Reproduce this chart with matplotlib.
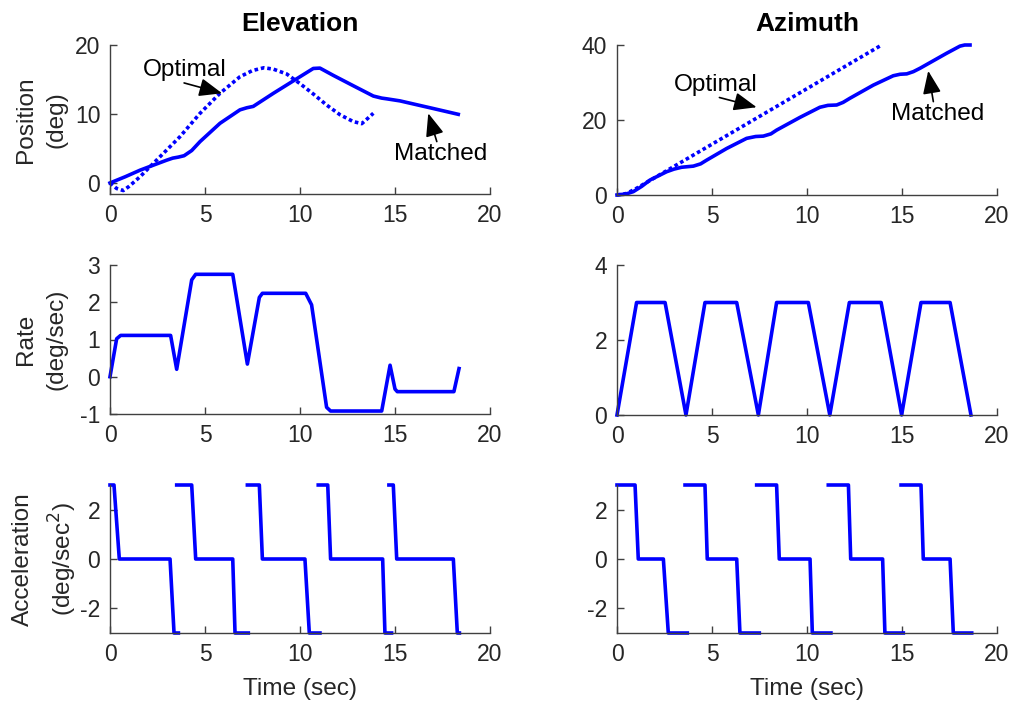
import matplotlib.pyplot as plt

plt.rcParams['font.family'] = ['Liberation Sans', 'DejaVu Sans']
plt.rcParams['axes.unicode_minus'] = False

# Elevation position (deg)
el_opt_t = [0, 0.35, 0.7, 1.0, 1.58, 2.63, 3.68, 4.74, 5.79, 6.84, 7.5, 8.1, 8.6,
            9.3, 10.0, 10.7, 11.4, 12.1, 12.8, 13.25, 13.5, 13.86]
el_opt_p = [0, -0.8, -1.1, -0.5, 0.9, 3.8, 6.7, 10.1, 13.0, 15.4, 16.3, 16.7, 16.5,
            15.8, 14.4, 12.9, 11.3, 9.9, 8.9, 8.6, 9.2, 10.1]
el_match_t = [0, 0.8, 1.58, 2.3, 2.98, 3.3, 3.6, 3.9, 4.3, 4.74, 5.79, 6.84, 7.2, 7.54,
              8.6, 10.0, 10.7, 11.05, 11.75, 12.8, 13.86, 14.3, 14.56, 15.26, 17.0, 18.33]
el_match_p = [0, 0.9, 1.85, 2.6, 3.3, 3.6, 3.75, 3.95, 4.7, 6.0, 8.65, 10.6, 10.9, 11.1,
              13.0, 15.4, 16.6, 16.65, 15.6, 14.1, 12.6, 12.3, 12.2, 11.9, 10.8, 9.95]

# Azimuth position (deg)
az_opt_t = [0, 0.5, 1.0, 13.93]
az_opt_p = [0, 0.4, 1.7, 40]
az_match_t = [0, 0.5, 0.86, 1.3, 1.74, 2.61, 3.0, 3.4, 4.02, 4.4, 4.72, 5.77, 6.82,
              7.3, 7.7, 8.1, 8.4, 9.63, 10.68, 11.1, 11.56, 11.9, 12.26, 13.49, 14.54,
              14.9, 15.25, 15.6, 15.95, 17.35, 18.05, 18.3, 18.58]
az_match_p = [0, 0.3, 0.9, 2.3, 4.0, 6.2, 6.9, 7.4, 7.7, 8.3, 9.3, 12.4, 15.1,
              15.6, 15.7, 16.3, 17.3, 20.7, 23.4, 23.9, 24.0, 24.7, 25.8, 29.3, 31.8,
              32.2, 32.3, 32.9, 33.8, 37.8, 39.7, 40.0, 40]

# Rates (deg/sec)
el_rate_t = [0, 0.35, 0.56, 3.19, 3.51, 4.3, 4.51, 6.46, 7.23, 7.86, 8.02, 10.3,
             10.61, 11.4, 11.61, 14.3, 14.74, 15.0, 15.12, 18.1, 18.37]
el_rate = [0, 1.02, 1.11, 1.11, 0.2, 2.6, 2.75, 2.75, 0.34, 2.13, 2.24, 2.24,
           1.93, -0.82, -0.92, -0.92, 0.31, -0.33, -0.4, -0.4, 0.22]
az_rate_t = [0, 1.03, 2.53, 3.63, 4.63, 6.3, 7.44, 8.4, 10.07, 11.2, 12.23, 13.9,
             14.98, 16.0, 17.53, 18.63]
az_rate = [0, 3, 3, 0, 3, 3, 0, 3, 3, 0, 3, 3, 0, 3, 3, 0]

# Accelerations (deg/sec^2), one segment per move
acc_levels = [3, 3, 0, 0, -3, -3]
el_acc_t = [
    [0, 0.21, 0.49, 3.16, 3.37, 3.6],
    [3.51, 4.3, 4.51, 6.46, 6.58, 7.28],
    [7.23, 7.86, 8.02, 10.26, 10.49, 11.05],
    [10.96, 11.46, 11.61, 14.35, 14.47, 14.82],
    [14.68, 14.91, 15.09, 18.07, 18.28, 18.39],
]
az_acc_t = [
    [0, 0.95, 1.12, 2.44, 2.7, 3.7],
    [3.58, 4.63, 4.75, 6.3, 6.47, 7.49],
    [7.35, 8.4, 8.54, 10.16, 10.28, 11.26],
    [11.12, 12.18, 12.3, 13.98, 14.1, 15.07],
    [14.95, 16.0, 16.12, 17.53, 17.7, 18.67],
]

W, H = 1021, 706
fig = plt.figure(figsize=(W / 100, H / 100), dpi=100)


def make_ax(x0, x1, y0, y1):
    ax = fig.add_axes([x0 / W, 1 - y1 / H, (x1 - x0) / W, (y1 - y0) / H])
    for s in ['top', 'right']:
        ax.spines[s].set_visible(False)
    for s in ['left', 'bottom']:
        ax.spines[s].set_color('#404040')
        ax.spines[s].set_linewidth(1.0)
    ax.tick_params(direction='in', length=5, width=1.0, color='#404040',
                   labelcolor='#262626', labelsize=16.5, pad=7)
    ax.set_xlim(0, 20)
    ax.set_xticks([0, 5, 10, 15, 20])
    ax.set_facecolor('none')
    return ax


lab = dict(fontsize=17.6, color='#262626', linespacing=1.5)
line = dict(color='#0000ff', lw=2.6, clip_on=False)
dotted = (0, (1, 0.8))
arrow = dict(arrowstyle='-|>,head_length=0.7,head_width=0.28', color='k', lw=1.2,
             shrinkA=0, shrinkB=0, mutation_scale=20)
ylab_x = -0.112

# Row 1: positions
ax = make_ax(110, 490, 45, 194)
ax.plot(el_opt_t, el_opt_p, ls=dotted, **line)
ax.plot(el_match_t, el_match_p, **line)
ax.set_ylim(-1.6, 20)
ax.set_yticks([0, 10, 20])
ax.set_ylabel('Position\n(deg)', **lab)
ax.yaxis.set_label_coords(ylab_x, 0.5)
ax.set_title('Elevation', fontsize=19, fontweight='bold', pad=10)
ax.text(3.93, 15.46, 'Optimal', fontsize=17.6, ha='center', va='baseline')
ax.annotate('', xy=(5.9, 13.0), xytext=(3.9, 14.5), arrowprops=arrow)
ax.text(17.4, 3.3, 'Matched', fontsize=17.6, ha='center', va='baseline')
ax.annotate('', xy=(16.75, 10.1), xytext=(17.2, 6.0), arrowprops=arrow)

ax = make_ax(617, 997, 45, 195)
ax.plot(az_opt_t, az_opt_p, ls=dotted, **line)
ax.plot(az_match_t, az_match_p, **line)
ax.set_ylim(0, 40)
ax.set_yticks([0, 20, 40])
ax.set_title('Azimuth', fontsize=19, fontweight='bold', pad=10)
ax.text(5.2, 27.8, 'Optimal', fontsize=17.6, ha='center', va='baseline')
ax.annotate('', xy=(7.35, 23.4), xytext=(5.39, 26.0), arrowprops=arrow)
ax.text(16.9, 20.0, 'Matched', fontsize=17.6, ha='center', va='baseline')
ax.annotate('', xy=(16.38, 33.1), xytext=(16.65, 24.9), arrowprops=arrow)

# Row 2: rates
ax = make_ax(110, 490, 265, 414)
ax.plot(el_rate_t, el_rate, **line)
ax.set_ylim(-1, 3)
ax.set_yticks([-1, 0, 1, 2, 3])
ax.set_ylabel('Rate\n(deg/sec)', **lab)
ax.yaxis.set_label_coords(ylab_x, 0.5)

ax = make_ax(617, 997, 265, 415)
ax.plot(az_rate_t, az_rate, **line)
ax.set_ylim(0, 4)
ax.set_yticks([0, 2, 4])

# Row 3: accelerations
ax = make_ax(110, 490, 485, 633)
for seg in el_acc_t:
    ax.plot(seg, acc_levels, **line)
ax.set_ylim(-3, 3)
ax.set_yticks([-2, 0, 2])
ax.set_ylabel('Acceleration\n(deg/sec$^2$)', **lab)
ax.yaxis.set_label_coords(ylab_x + 0.03, 0.5)
ax.set_xlabel('Time (sec)', labelpad=9, **lab)

ax = make_ax(617, 997, 485, 633)
for seg in az_acc_t:
    ax.plot(seg, acc_levels, **line)
ax.set_ylim(-3, 3)
ax.set_yticks([-2, 0, 2])
ax.set_xlabel('Time (sec)', labelpad=9, **lab)

fig.savefig('out.png', dpi=100, facecolor='white')
